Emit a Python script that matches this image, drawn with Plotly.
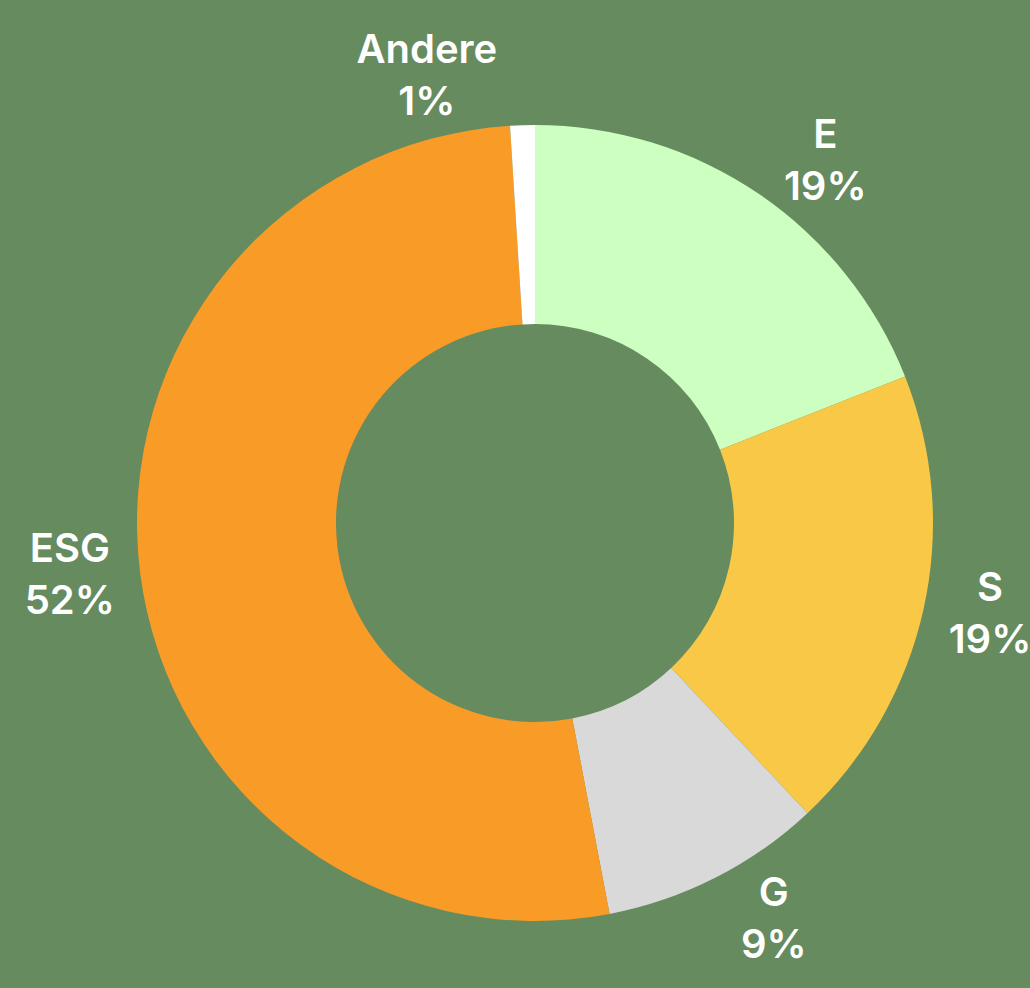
import plotly.graph_objects as go

labels = ["E", "S", "G", "ESG", "Andere"]
values = [19, 19, 9, 52, 1]
colors = ["#CCFFC0", "#F8C846", "#D9D9D9", "#F99B27", "#FFFFFF"]
bg = "#658B5E"

fig = go.Figure(go.Pie(
    labels=labels,
    values=values,
    hole=0.5,
    sort=False,
    direction="clockwise",
    rotation=0,
    marker=dict(colors=colors, line=dict(color=bg, width=0)),
    textposition="outside",
    texttemplate="%{label}<br>%{percent:.0%}",
    textfont=dict(family="Inter", size=40, color="white", weight=600),
    showlegend=False,
    automargin=False,
))
fig.update_layout(
    width=1030, height=988,
    paper_bgcolor=bg, plot_bgcolor=bg,
    margin=dict(l=137, r=97, t=125, b=67),
)
fig.write_html("out.html")
